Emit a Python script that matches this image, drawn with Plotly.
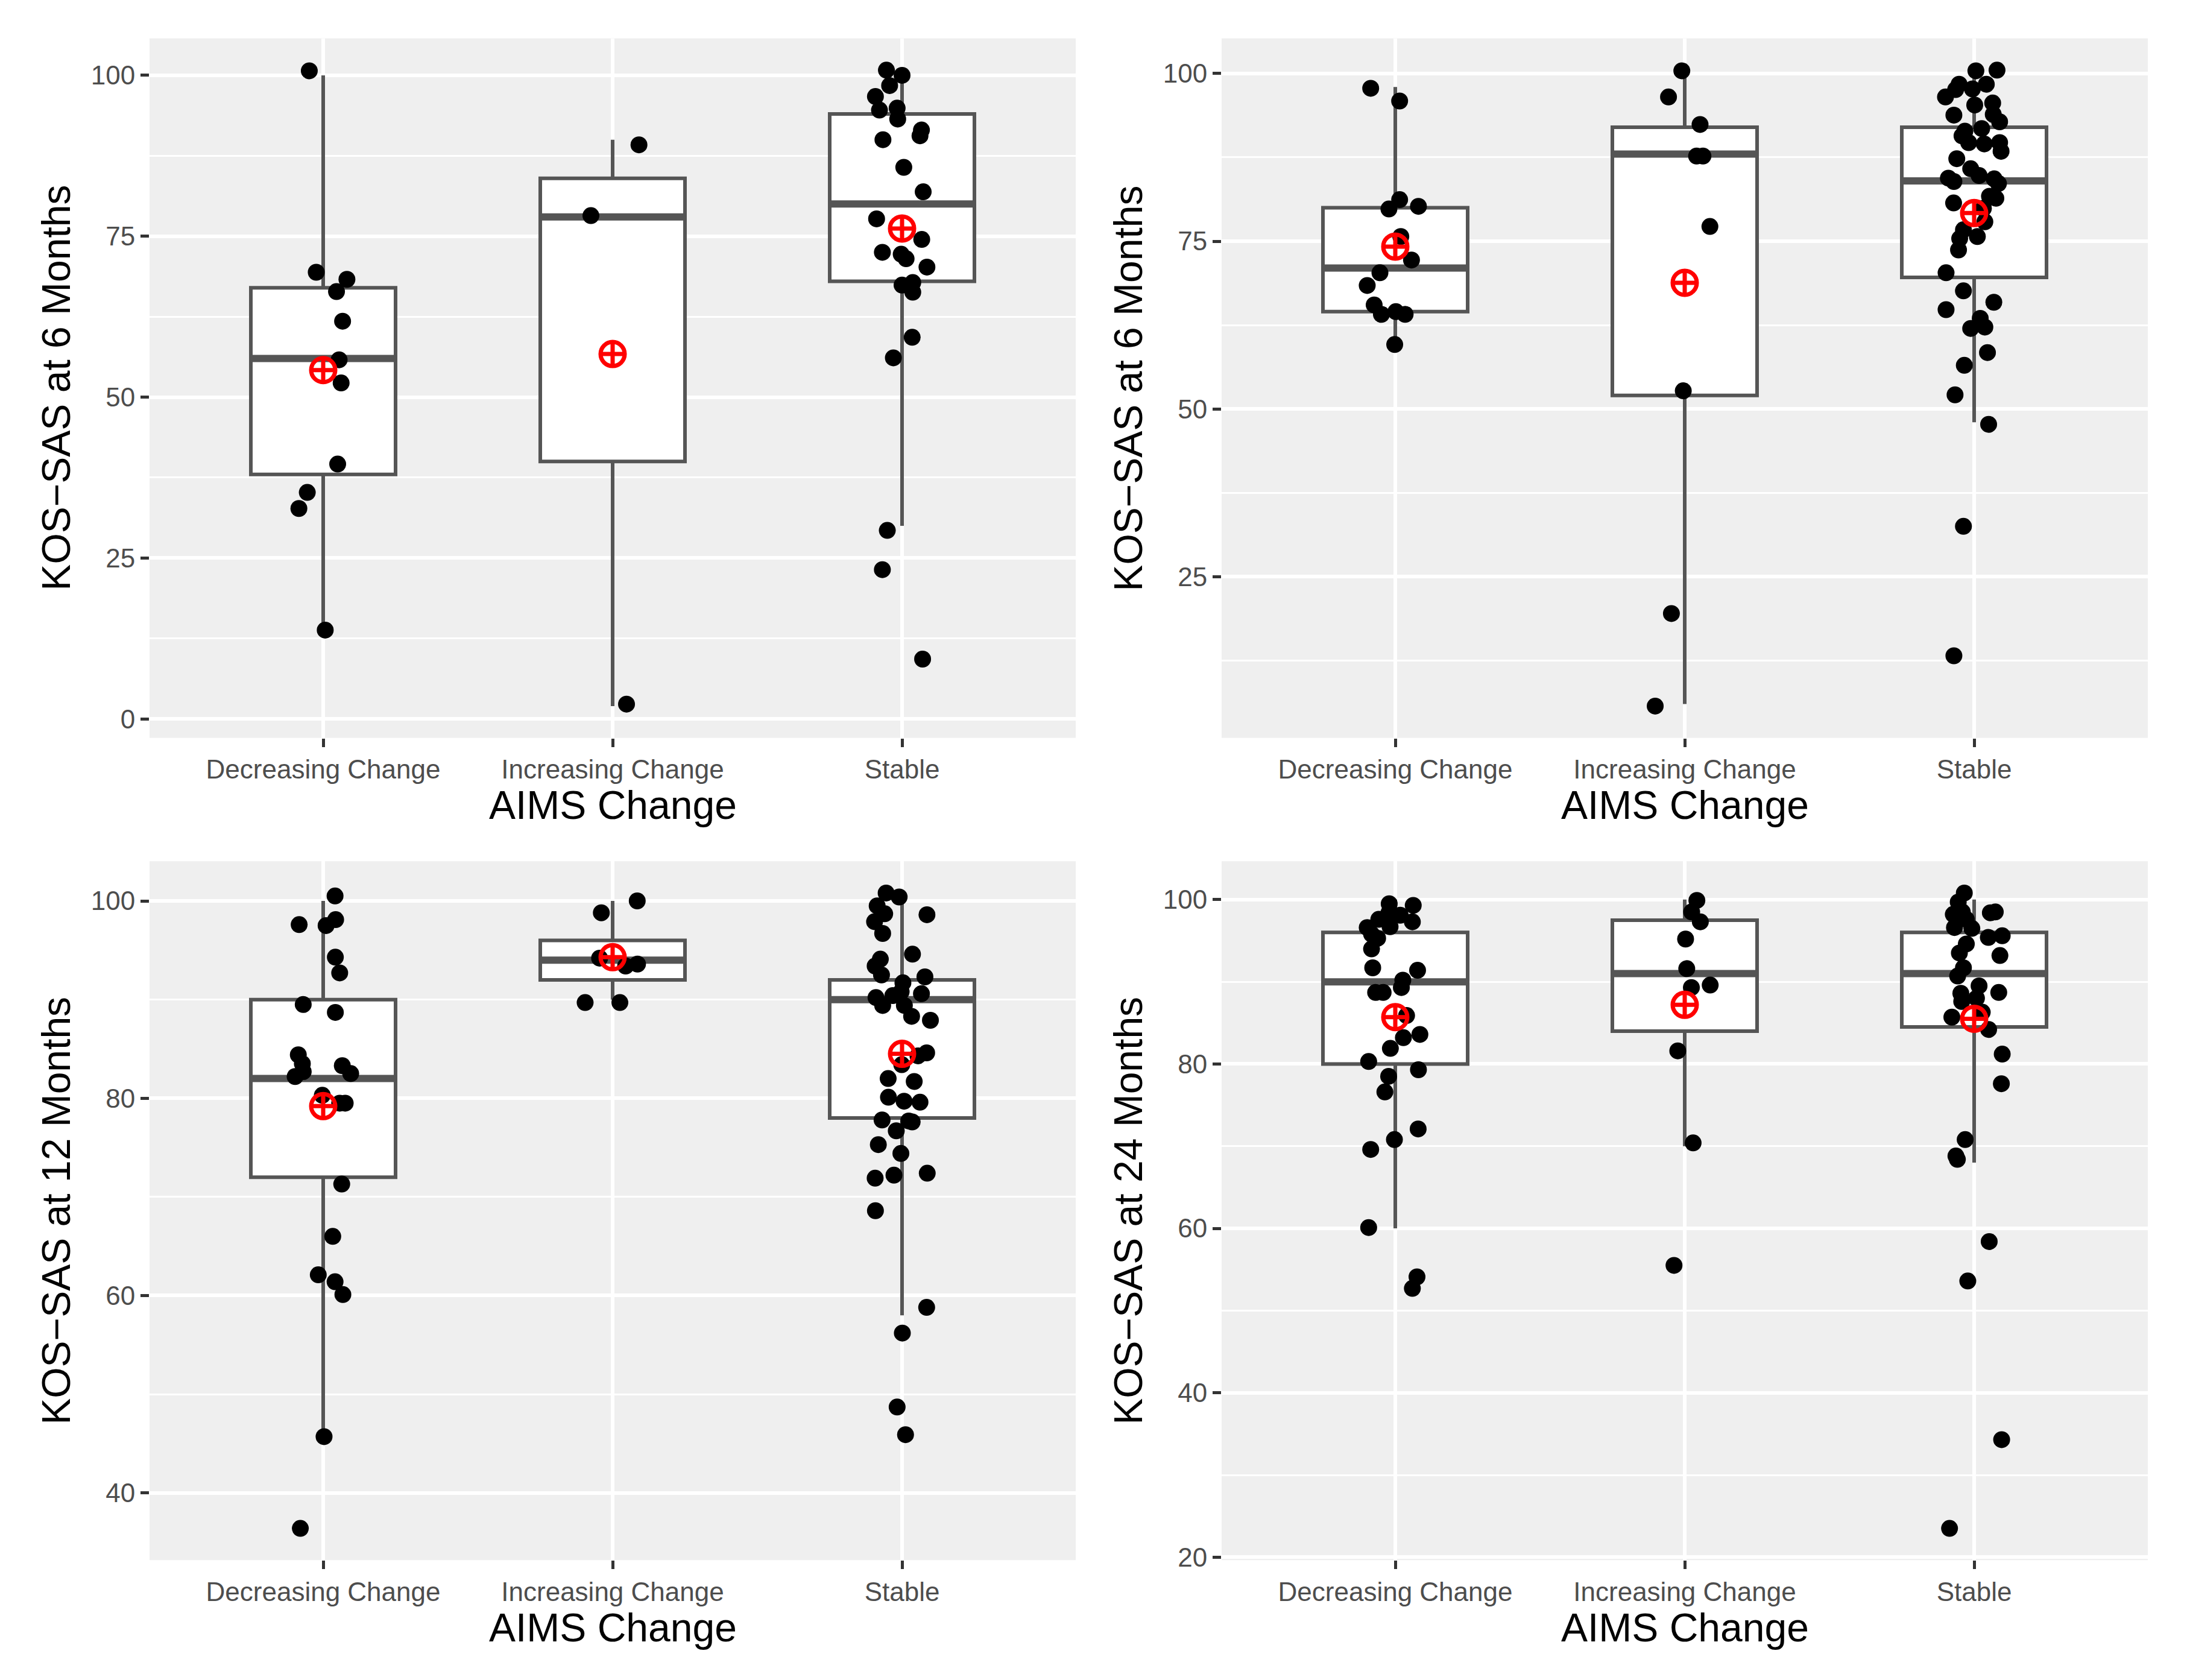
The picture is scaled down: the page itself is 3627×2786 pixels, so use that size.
import plotly.graph_objects as go

W, H = 3627, 2786

categories = ["Decreasing Change", "Increasing Change", "Stable"]

# ---- panel 1: KOS-SAS at 6 months (top left) ----
p1_dec_y = [100.7, 69.4, 68.3, 66.4, 61.8, 55.8, 52.2, 39.6, 35.2, 32.7, 13.8]
p1_dec_dx = [-0.048, -0.024, 0.082, 0.046, 0.067, 0.055, 0.062, 0.050, -0.055, -0.084, 0.007]
p1_inc_y = [89.2, 78.2, 2.3]
p1_inc_dx = [0.091, -0.075, 0.048]
p1_sta_y = [100.8, 100.0, 98.4, 96.7, 94.6, 94.9, 93.2, 91.5, 90.6, 90.0, 85.7, 81.9, 77.7,
            74.5, 72.5, 72.2, 71.5, 70.2, 67.4, 67.8, 66.3, 59.3, 56.1, 29.3, 23.2, 9.3]
p1_sta_dx = [-0.054, 0.0, -0.043, -0.092, -0.078, -0.017, -0.015, 0.067, 0.062, -0.066, 0.006, 0.073, -0.088,
             0.068, -0.068, -0.003, 0.014, 0.086, 0.0, 0.037, 0.037, 0.035, -0.030, -0.051, -0.068, 0.071]
p1_q1 = [38, 40, 68]
p1_med = [56, 78, 80]
p1_q3 = [67, 84, 94]
p1_lo = [14, 2, 30]
p1_hi = [100, 90, 100]
p1_mean = [54.2, 56.7, 76.2]

# ---- panel 2: KOS-SAS at 6 months (top right) ----
p2_dec_y = [97.8, 95.9, 81.2, 79.8, 80.2, 75.7, 72.2, 70.3, 68.4, 65.5, 64.1, 64.5, 64.1, 59.6]
p2_dec_dx = [-0.085, 0.015, 0.015, -0.022, 0.080, 0.019, 0.056, -0.053, -0.097, -0.073, -0.048, 0.002, 0.034, -0.002]
p2_inc_y = [100.4, 96.5, 92.4, 87.7, 87.7, 77.2, 52.7, 19.5, 5.7]
p2_inc_dx = [-0.010, -0.056, 0.053, 0.041, 0.063, 0.087, -0.005, -0.046, -0.102]
p2_sta_y = [100.4, 100.5, 98.4, 98.4, 97.7, 97.6, 96.5, 95.3, 95.6, 93.8, 93.9, 92.8, 91.4, 91.8, 90.7, 89.7,
            89.5, 89.7, 88.4, 87.3, 85.8, 84.8, 84.4, 83.9, 84.3, 83.6, 81.7, 81.4, 80.7, 79.9, 77.9, 76.7,
            75.7, 75.4, 73.7, 70.3, 67.6, 65.9, 64.8, 63.5, 62.2, 62.0, 58.4, 56.5, 52.1, 47.7, 32.5, 13.2]
p2_sta_dx = [0.006, 0.079, -0.052, 0.042, -0.006, -0.064, -0.099, 0.002, 0.064, -0.070, 0.066, 0.088, -0.032, 0.026, -0.042, -0.019,
             0.035, 0.088, 0.093, -0.060, -0.012, 0.017, -0.089, -0.070, 0.069, 0.084, 0.053, 0.075, -0.071, 0.032, 0.037, -0.037,
             0.011, -0.050, -0.054, -0.097, -0.037, 0.068, -0.097, 0.021, 0.037, -0.012, 0.046, -0.034, -0.066, 0.050, -0.037, -0.070]
p2_q1 = [64.5, 52, 69.6]
p2_med = [71, 88, 84]
p2_q3 = [80, 92, 92]
p2_lo = [60, 6, 48]
p2_hi = [98, 100, 100]
p2_mean = [74.2, 68.8, 79.2]

# ---- panel 3: KOS-SAS at 12 months ----
p3_dec_y = [100.5, 97.6, 98.1, 97.5, 94.3, 92.7, 89.5, 88.7, 84.4, 83.5, 83.3, 82.7, 82.5, 82.2, 80.3, 79.5,
            79.5, 71.3, 66.0, 62.1, 61.4, 60.1, 45.7, 36.4]
p3_dec_dx = [0.041, -0.083, 0.043, 0.010, 0.042, 0.057, -0.069, 0.042, -0.086, -0.072, 0.066, -0.069, 0.095, -0.097, -0.003, 0.057,
             0.076, 0.064, 0.033, -0.017, 0.041, 0.068, 0.003, -0.079]
p3_inc_y = [100.0, 98.8, 94.2, 93.4, 93.6, 89.7, 89.7]
p3_inc_dx = [0.085, -0.039, -0.045, 0.045, 0.086, -0.095, 0.025]
p3_sta_y = [100.8, 100.4, 99.5, 98.7, 98.6, 97.9, 96.7, 94.6, 94.1, 93.4, 92.5, 92.3, 91.7, 90.2, 90.4, 90.8,
            90.6, 89.4, 89.4, 88.3, 87.9, 84.6, 84.3, 83.4, 82.0, 81.7, 80.1, 79.7, 79.6, 77.8, 77.7, 77.6,
            76.7, 75.3, 74.4, 71.9, 72.2, 72.4, 68.6, 58.8, 56.2, 48.7, 45.9]
p3_sta_dx = [-0.055, -0.010, -0.086, -0.060, 0.086, -0.095, -0.067, 0.036, -0.075, -0.093, -0.071, 0.079, 0.003, -0.090, -0.032, -0.003,
             0.067, -0.067, 0.008, 0.033, 0.098, 0.085, 0.055, -0.001, -0.048, 0.042, -0.047, 0.007, 0.062, -0.069, 0.023, 0.035,
             -0.020, -0.082, -0.004, -0.093, -0.028, 0.087, -0.092, 0.085, 0.001, -0.017, 0.012]
p3_q1 = [72, 92, 78]
p3_med = [82, 94, 90]
p3_q3 = [90, 96, 92]
p3_lo = [46, 90, 58]
p3_hi = [100, 100, 100]
p3_mean = [79.2, 94.3, 84.5]

# ---- panel 4: KOS-SAS at 24 months ----
p4_dec_y = [99.5, 99.3, 98.4, 98.1, 97.6, 97.3, 96.6, 96.7, 95.8, 95.3, 94.0, 91.7, 91.4, 90.2, 89.3, 88.7,
            88.7, 85.9, 83.6, 83.2, 81.9, 80.3, 79.3, 78.5, 76.6, 72.1, 70.8, 69.6, 60.1, 54.1, 52.7]
p4_dec_dx = [-0.021, 0.062, -0.022, 0.017, -0.057, 0.059, -0.097, -0.018, -0.082, -0.061, -0.082, -0.078, 0.077, 0.026, 0.021, -0.068,
             -0.042, 0.039, 0.085, 0.028, -0.017, -0.092, 0.080, -0.023, -0.036, 0.079, -0.003, -0.085, -0.092, 0.075, 0.059]
p4_inc_y = [99.9, 98.5, 97.3, 95.2, 91.6, 89.3, 89.6, 81.6, 70.4, 55.5]
p4_inc_dx = [0.042, 0.024, 0.054, 0.003, 0.007, 0.023, 0.088, -0.024, 0.029, -0.037]
p4_sta_y = [100.8, 99.7, 98.5, 98.4, 98.2, 98.5, 97.6, 96.6, 96.5, 95.4, 95.6, 94.6, 93.5, 93.2, 91.7, 90.7,
            89.5, 88.7, 88.6, 87.6, 88.0, 86.3, 85.7, 84.2, 81.2, 77.6, 70.8, 68.8, 68.4, 58.4, 53.6, 34.3, 23.5]
p4_sta_dx = [-0.034, -0.055, 0.073, 0.056, -0.072, -0.041, -0.027, -0.068, -0.008, 0.049, 0.097, -0.027, -0.051, 0.089, -0.037, -0.057,
             0.017, 0.085, -0.046, -0.043, 0.008, 0.028, -0.077, 0.050, 0.097, 0.094, -0.031, -0.063, -0.058, 0.052, -0.022, 0.095, -0.085]
p4_q1 = [80, 84, 84.5]
p4_med = [90, 91, 91]
p4_q3 = [96, 97.5, 96]
p4_lo = [60, 70, 68]
p4_hi = [100, 100, 100]
p4_mean = [85.7, 87.2, 85.5]

y_titles = ["KOS\u2212SAS at 6 Months", "KOS\u2212SAS at 6 Months",
            "KOS\u2212SAS at 12 Months", "KOS\u2212SAS at 24 Months"]
x_title = "AIMS Change"

panels = [
    dict(ys=[p1_dec_y, p1_inc_y, p1_sta_y], dxs=[p1_dec_dx, p1_inc_dx, p1_sta_dx],
         q1=p1_q1, med=p1_med, q3=p1_q3, lo=p1_lo, hi=p1_hi, mean=p1_mean, dtick=25),
    dict(ys=[p2_dec_y, p2_inc_y, p2_sta_y], dxs=[p2_dec_dx, p2_inc_dx, p2_sta_dx],
         q1=p2_q1, med=p2_med, q3=p2_q3, lo=p2_lo, hi=p2_hi, mean=p2_mean, dtick=25),
    dict(ys=[p3_dec_y, p3_inc_y, p3_sta_y], dxs=[p3_dec_dx, p3_inc_dx, p3_sta_dx],
         q1=p3_q1, med=p3_med, q3=p3_q3, lo=p3_lo, hi=p3_hi, mean=p3_mean, dtick=20),
    dict(ys=[p4_dec_y, p4_inc_y, p4_sta_y], dxs=[p4_dec_dx, p4_inc_dx, p4_sta_dx],
         q1=p4_q1, med=p4_med, q3=p4_q3, lo=p4_lo, hi=p4_hi, mean=p4_mean, dtick=20),
]

# panel placement in pixels (left, right, top, bottom)
boxes_px = [(240, 1776, 56, 1224), (2018, 3554, 56, 1224),
            (240, 1776, 1430, 2597), (2018, 3554, 1430, 2597)]

FONT = "Liberation Sans, Arial, sans-serif"
BOX_COL = "#555555"
BOX_W = 0.5

fig = go.Figure()
layout = {}
annotations = []

for k, p in enumerate(panels):
    sfx = "" if k == 0 else str(k + 1)
    xa, ya = "x" + sfx, "y" + sfx

    fig.add_trace(go.Box(
        x=[0, 1, 2], q1=p["q1"], median=p["med"], q3=p["q3"],
        lowerfence=p["lo"], upperfence=p["hi"],
        width=BOX_W, whiskerwidth=0, fillcolor="white",
        line=dict(color=BOX_COL, width=6),
        xaxis=xa, yaxis=ya, showlegend=False, hoverinfo="skip"))

    # thicker median bar like ggplot's fatten
    mx, my = [], []
    for i, m in enumerate(p["med"]):
        mx += [i - BOX_W / 2, i + BOX_W / 2, None]
        my += [m, m, None]
    fig.add_trace(go.Scatter(x=mx, y=my, mode="lines",
                             line=dict(color=BOX_COL, width=12),
                             xaxis=xa, yaxis=ya, showlegend=False, hoverinfo="skip"))

    px, py = [], []
    for i, (vals, offs) in enumerate(zip(p["ys"], p["dxs"])):
        px += [i + d for d in offs]
        py += vals
    fig.add_trace(go.Scatter(x=px, y=py, mode="markers",
                             marker=dict(color="black", size=28),
                             xaxis=xa, yaxis=ya, showlegend=False))

    fig.add_trace(go.Scatter(x=[0, 1, 2], y=p["mean"], mode="markers",
                             marker=dict(symbol="circle-cross-open", color="red", size=40,
                                         line=dict(color="red", width=7)),
                             xaxis=xa, yaxis=ya, showlegend=False))

    allv = py + p["lo"] + p["hi"]
    lo, hi = min(allv), max(allv)
    pad = (hi - lo) * 0.05

    l, r, t, b = boxes_px[k]
    layout["xaxis" + sfx] = dict(
        domain=[l / W, r / W], anchor=ya, range=[-0.6, 2.6],
        tickmode="array", tickvals=[0, 1, 2], ticktext=categories,
        showgrid=True, gridcolor="white", gridwidth=6, zeroline=False, showline=False,
        ticks="outside", ticklen=14, tickwidth=5, tickcolor="#333333",
        tickfont=dict(family=FONT, size=44, color="#4D4D4D"))
    layout["yaxis" + sfx] = dict(
        domain=[1 - b / H, 1 - t / H], anchor=xa, range=[lo - pad, hi + pad],
        tick0=0, dtick=p["dtick"],
        minor=dict(dtick=p["dtick"] / 2, showgrid=True, gridcolor="white", gridwidth=3),
        showgrid=True, gridcolor="white", gridwidth=6, zeroline=False, showline=False,
        ticks="outside", ticklen=14, tickwidth=5, tickcolor="#333333",
        tickfont=dict(family=FONT, size=44, color="#4D4D4D"))

    annotations.append(dict(text=y_titles[k], textangle=-90, xref="paper", yref="paper",
                            x=(l - 155) / W, y=1 - (t + b) / 2 / H,
                            xanchor="center", yanchor="middle", showarrow=False,
                            font=dict(family=FONT, size=66, color="black")))
    annotations.append(dict(text=x_title, xref="paper", yref="paper",
                            x=(l + r) / 2 / W, y=1 - (b + 112) / H,
                            xanchor="center", yanchor="middle", showarrow=False,
                            font=dict(family=FONT, size=66, color="black")))

fig.update_layout(
    width=W, height=H,
    margin=dict(l=0, r=0, t=0, b=0),
    paper_bgcolor="white", plot_bgcolor="#EFEFEF",
    annotations=annotations,
    **layout
)

fig.write_html("out.html")
